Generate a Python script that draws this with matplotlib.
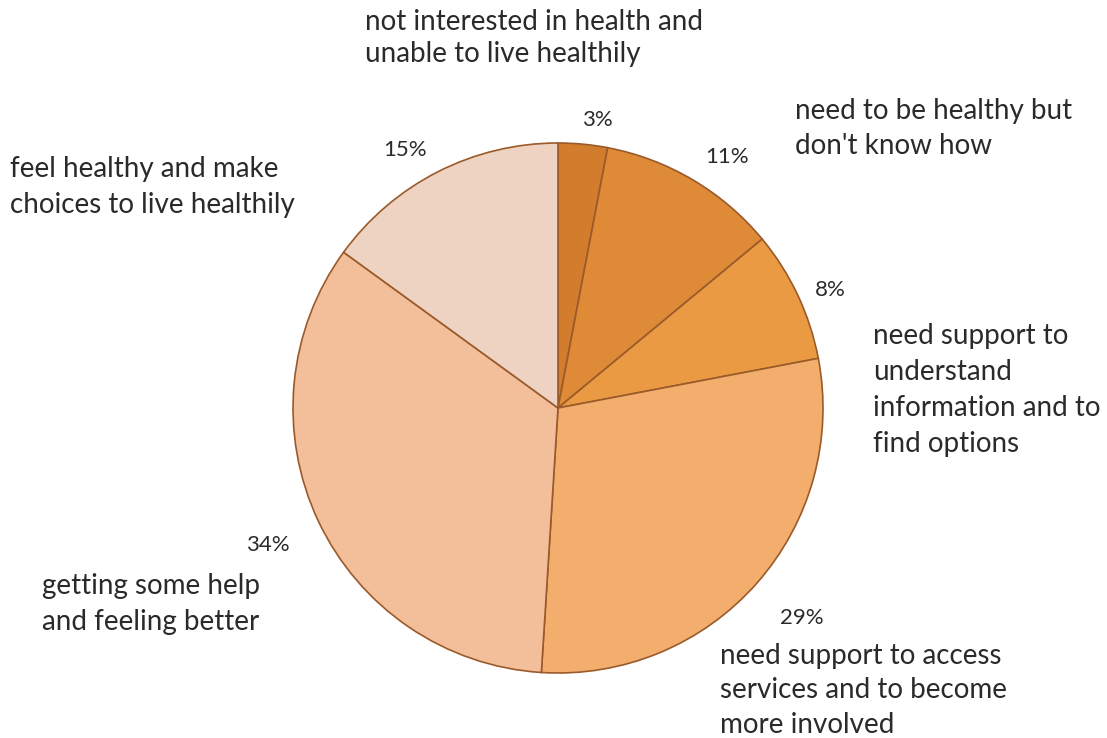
import matplotlib.pyplot as plt

# Share of people in each health-engagement group
shares = [3, 11, 8, 29, 34, 15]
pct_labels = ["3%", "11%", "8%", "29%", "34%", "15%"]
categories = [
    "not interested in health and\nunable to live healthily",
    "need to be healthy but\ndon't know how",
    "need support to\nunderstand\ninformation and to\nfind options",
    "need support to access\nservices and to become\nmore involved",
    "getting some help\nand feeling better",
    "feel healthy and make\nchoices to live healthily",
]
colors = ["#d27d2e", "#de8a37", "#e99a42", "#f3ae6e", "#f2bf9a", "#efd3c2"]

W, H = 1107, 738
CX, CY, R = 558, 408, 265

# label anchor points in pixel space (x, y from top)
pct_pos = [(597, 120), (727, 157), (830, 290), (802, 618), (268, 545), (405, 150)]
cat_pos = [(365, 9), (795, 98), (873, 323), (720, 643), (42, 573), (10, 156)]
cat_spacing = [1.3, 1.43, 1.47, 1.4, 1.47, 1.47]

plt.rcParams["font.family"] = ["Lato", "DejaVu Sans"]

fig = plt.figure(figsize=(W / 100, H / 100), dpi=100)
ax = fig.add_axes([0, 0, 1, 1])

ax.pie(
    shares,
    colors=colors,
    startangle=90,
    counterclock=False,
    center=(CX, H - CY),
    radius=R,
    wedgeprops={"edgecolor": "#9a5a2a", "linewidth": 1.2},
)
ax.set_xlim(0, W)
ax.set_ylim(0, H)
ax.set_aspect("equal")
ax.axis("off")

for txt, (x, y) in zip(pct_labels, pct_pos):
    ax.text(x, H - y, txt, fontsize=16, color="#2a2a2a", ha="center", va="center")

for txt, (x, y), ls in zip(categories, cat_pos, cat_spacing):
    ax.text(x, H - y, txt, fontsize=20, color="#2a2a2a", ha="left", va="top",
            linespacing=ls)

fig.savefig("out.png", dpi=100)
